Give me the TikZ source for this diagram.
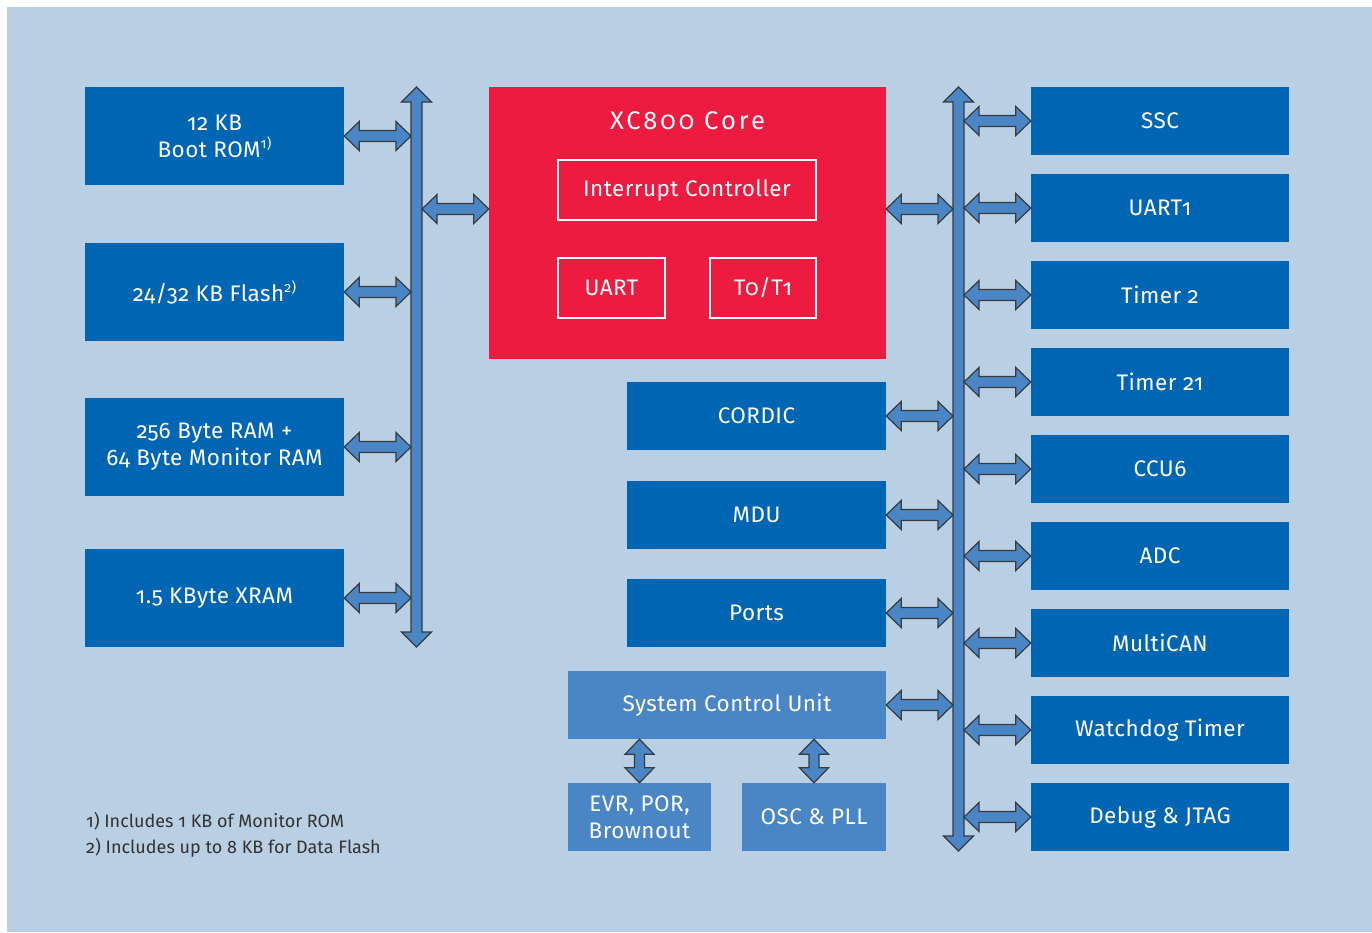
\documentclass[tikz,border=0pt]{standalone}
\usepackage{fontspec}
\setmainfont{Fira Sans}[Numbers=OldStyle]
\usetikzlibrary{calc}
\definecolor{bg}{HTML}{B9CFE3}
\definecolor{dblue}{HTML}{0066B3}
\definecolor{mblue}{HTML}{4A86C5}
\definecolor{cred}{HTML}{EC1B3F}
\definecolor{edgec}{HTML}{3A3A3A}
\definecolor{ftext}{HTML}{333333}
\newcommand\fnm[1]{\raisebox{0.75ex}{\fontsize{14}{14}\selectfont #1}}
\newcommand\HArr[2]{\draw[barrow] let \p1=#1, \p2=#2 in (\x1,\y1) -- (\x1+15pt,\y1+14.5pt) -- (\x1+15pt,\y1+5.5pt) -- (\x2-15pt,\y1+5.5pt) -- (\x2-15pt,\y1+14.5pt) -- (\x2,\y1) -- (\x2-15pt,\y1-14.5pt) -- (\x2-15pt,\y1-5.5pt) -- (\x1+15pt,\y1-5.5pt) -- (\x1+15pt,\y1-14.5pt) -- cycle;}
\newcommand\VArr[2]{\draw[barrow] let \p1=#1, \p2=#2 in (\x1,\y1) -- (\x1+14.5pt,\y1-15pt) -- (\x1+5pt,\y1-15pt) -- (\x1+5pt,\y2+15pt) -- (\x1+14.5pt,\y2+15pt) -- (\x1,\y2) -- (\x1-14.5pt,\y2+15pt) -- (\x1-5pt,\y2+15pt) -- (\x1-5pt,\y1-15pt) -- (\x1-14.5pt,\y1-15pt) -- cycle;}
\newcommand\VBus[3]{\draw[barrow] (#1,#2) -- (#1+15,#2+15) -- (#1+5.5,#2+15) -- (#1+5.5,#3-15) -- (#1+15,#3-15) -- (#1,#3) -- (#1-15,#3-15) -- (#1-5.5,#3-15) -- (#1-5.5,#2+15) -- (#1-15,#2+15) -- cycle;}
\begin{document}
\begin{tikzpicture}[x=1pt,y=-1pt,
  barrow/.style={fill=mblue,draw=edgec,line width=1.2pt,line join=miter},
  blk/.style={inner sep=0pt,align=center,text=white,font=\fontsize{22.5}{27}\selectfont\addfontfeature{LetterSpace=2}},
  dbox/.style={blk,fill=dblue},
  lbox/.style={dbox,minimum width=259pt,minimum height=98pt},
  rbox/.style={dbox,minimum width=258pt,minimum height=68pt},
  mbox/.style={dbox,minimum width=259pt,minimum height=68pt},
  lbbox/.style={blk,fill=mblue,minimum height=68pt},
  wbox/.style={blk,draw=white,line width=1.6pt,minimum height=60pt},
  foot/.style={anchor=west,inner sep=0pt,text=ftext,font=\fontsize{18}{20}\selectfont}]
\useasboundingbox (0,0) rectangle (1372,932);
\fill[bg] (7,7) rectangle (1372,932);
% left memories
\node[lbox] (rom) at (214.5,136) {12 KB\\Boot ROM\fnm{1)}};
\node[lbox] (flash) at (214.5,292) {24/32 KB Flash\fnm{2)}};
\node[lbox] (ram) at (214.5,447) {256 Byte RAM +\\64 Byte Monitor RAM};
\node[lbox] (xram) at (214.5,598) {1.5 KByte XRAM};
% core
\node[blk,fill=cred,minimum width=397pt,minimum height=272pt] (core) at (687.5,223) {};
\node[blk,font=\fontsize{25.5}{28}\selectfont\addfontfeature{LetterSpace=12}] (coret) at (687.5,121) {XC800 Core};
\node[wbox,minimum width=258pt] (intc) at (687,190) {Interrupt Controller};
\node[wbox,minimum width=107pt] (uart) at (611.5,288) {UART};
\node[wbox,minimum width=106pt] (t01) at (763,288) {T0/T1};
\coordinate (corebus) at (687.5,209);
% middle
\node[mbox] (cordic) at (756.5,416) {CORDIC};
\node[mbox] (mdu) at (756.5,515) {MDU};
\node[mbox] (ports) at (756.5,613) {Ports};
\node[lbbox,minimum width=318pt] (scu) at (727,705) {System Control Unit};
\node[lbbox,minimum width=143pt] (evr) at (639.5,817) {EVR, POR,\\Brownout};
\node[lbbox,minimum width=144pt] (osc) at (814,817) {OSC \& PLL};
% right peripherals
\node[rbox] (ssc) at (1160,121) {SSC};
\node[rbox] (uart1) at (1160,208) {UART1};
\node[rbox] (tim2) at (1160,295) {Timer 2};
\node[rbox] (tim21) at (1160,382) {Timer 21};
\node[rbox] (ccu6) at (1160,469) {CCU6};
\node[rbox] (adc) at (1160,556) {ADC};
\node[rbox] (mcan) at (1160,643) {MultiCAN};
\node[rbox] (wdt) at (1160,730) {Watchdog Timer};
\node[rbox] (dbg) at (1160,817) {Debug \& JTAG};
% footnotes
\node[foot] (fn1) at (86,821) {1) Includes 1 KB of Monitor ROM};
\node[foot] (fn2) at (86,848) {2) Includes up to 8 KB for Data Flash};
% buses
\coordinate (lbL) at (411,0);
\coordinate (lbR) at (422,0);
\coordinate (rbL) at (953,0);
\coordinate (rbR) at (964,0);
\VBus{416.5}{87}{647}
\VBus{958.5}{87}{851}
% left arrows
\HArr{(rom.east)}{(lbL |- rom.east)}
\HArr{(flash.east)}{(lbL |- flash.east)}
\HArr{(ram.east)}{(lbL |- ram.east)}
\HArr{(xram.east)}{(lbL |- xram.east)}
\HArr{(lbR |- corebus)}{(core.west |- corebus)}
\HArr{(core.east |- corebus)}{(rbL |- corebus)}
% middle arrows
\HArr{(cordic.east)}{(rbL |- cordic.east)}
\HArr{(mdu.east)}{(rbL |- mdu.east)}
\HArr{(ports.east)}{(rbL |- ports.east)}
\HArr{(scu.east)}{(rbL |- scu.east)}
% right arrows
\foreach \q in {ssc,uart1,tim2,tim21,ccu6,adc,mcan,wdt,dbg}{
  \HArr{(rbR |- \q.west)}{(\q.west)}
}
% scu vertical arrows
\VArr{(evr.north |- scu.south)}{(evr.north)}
\VArr{(osc.north |- scu.south)}{(osc.north)}
\end{tikzpicture}
\end{document}
